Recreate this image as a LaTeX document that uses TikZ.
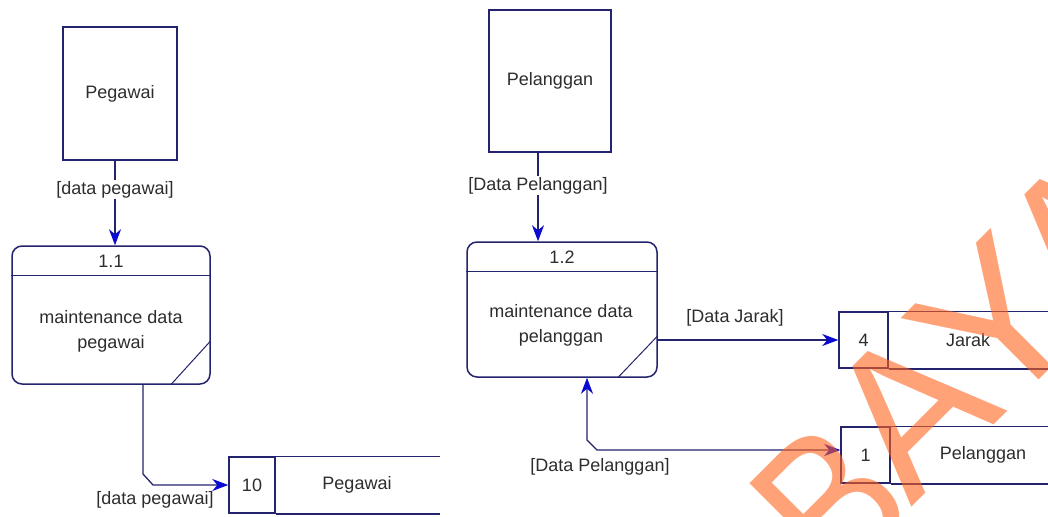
\documentclass[tikz,border=0pt]{standalone}
\usepackage{fontspec}
\setmainfont{Liberation Sans}
\usetikzlibrary{arrows.meta}
\definecolor{edge}{RGB}{35,35,110}
\definecolor{tipblue}{RGB}{10,10,210}
\definecolor{ink}{RGB}{45,45,45}
\definecolor{stamp}{RGB}{255,100,30}

\begin{document}
\begin{tikzpicture}[x=1pt,y=-1pt,
  every node/.style={text=ink,font=\fontsize{18}{25}\selectfont},
  >={Stealth[length=16pt,width=12pt,inset=5pt,color=tipblue]},
  boxline/.style={draw=edge,line width=1.5pt},
  box/.style={boxline,inner sep=0pt},
  proc/.style={box,rounded corners=10pt},
  flow/.style={draw=edge,line width=1.3pt},
  lbl/.style={fill=white,inner sep=1pt},
  stampletters/.style={anchor=base west,text=stamp,text opacity=0.6,
        font=\fontsize{205}{205}\selectfont,inner sep=0pt}]

\useasboundingbox (0,0) rectangle (1048,516);
\fill[white] (0,0) rectangle (1048,516);

% external entities
\node[box,minimum width=114pt,minimum height=133pt] (pegawai) at (120,93.5) {Pegawai};
\node[box,minimum width=122pt,minimum height=142pt] (pelanggan) at (550,81) {Pelanggan};

% process 1.1
\node[proc,minimum width=198pt,minimum height=138pt] (p11) at (111,315) {};
\draw[boxline] ([yshift=-30pt]p11.north west) -- ([yshift=-30pt]p11.north east);
\draw[boxline,line width=1pt] ([xshift=-40pt]p11.south east) -- ([yshift=44pt]p11.south east);
\node (p11id) at ([yshift=-16pt]p11.north) {1.1};
\node[align=center] (p11txt) at (111,331) {maintenance data\\pegawai};

% process 1.2
\node[proc,minimum width=190pt,minimum height=135pt] (p12) at (562,309.5) {};
\draw[boxline] ([yshift=-30pt]p12.north west) -- ([yshift=-30pt]p12.north east);
\draw[boxline,line width=1pt] ([xshift=-40pt]p12.south east) -- ([yshift=42pt]p12.south east);
\node (p12id) at ([yshift=-16pt]p12.north) {1.2};
\node[align=center] (p12txt) at (561,325) {maintenance data\\pelanggan};

% data stores (open on the right)
\node[box,minimum width=46pt,minimum height=56pt] (sPeg) at (252,485) {10};
\draw[boxline] (sPeg.north east) -- ++(164,0);
\draw[boxline] (sPeg.south east) -- ++(164,0);
\node (sPegName) at (357,485) {Pegawai};

\node[box,minimum width=49pt,minimum height=56pt] (sJarak) at (863.5,340) {4};
\draw[boxline] (sJarak.north east) -- ++(162,0);
\draw[boxline] (sJarak.south east) -- ++(162,0);
\node (sJarakName) at (968,340) {Jarak};

\node[box,minimum width=49pt,minimum height=56pt] (sPel) at (865.5,455) {1};
\draw[boxline] (sPel.north east) -- ++(160,0);
\draw[boxline] (sPel.south east) -- ++(160,0);
\node (sPelName) at (983,455) {Pelanggan};

% data flows
\draw[flow,->] ([xshift=-5pt]pegawai.south) -- node[lbl,pos=0.34] (lPeg1) {[data pegawai]} ([xshift=4pt]p11.north);
\draw[flow,->] ([xshift=32pt]p11.south) -- (143,474) -- (153,485) -- (sPeg.west);
\node (lPeg2) at (155,500) {[data pegawai]};

\draw[flow,->] ([xshift=-12pt]pelanggan.south) -- node[lbl,pos=0.37] (lPel1) {[Data Pelanggan]} ([xshift=-24pt]p12.north);
\draw[flow,->] (sJarak.west -| p12.east) -- (sJarak.west);
\node (lJarak) at (735,318) {[Data Jarak]};
\draw[flow,<->] ([xshift=25pt]p12.south) -- (587,440) -- (597,450) -- ([yshift=5pt]sPel.west);
\node (lPel2) at (600,467) {[Data Pelanggan]};

% stamp lettering across the right side
\begin{scope}
  \clip (0,0) rectangle (1048,516);
  \node[stampletters,rotate=45,xscale=0.85] (stampB) at (839,594) {B};
  \node[stampletters,rotate=45] (stampRest) at (911,508) {AYA};
\end{scope}
\end{tikzpicture}
\end{document}
